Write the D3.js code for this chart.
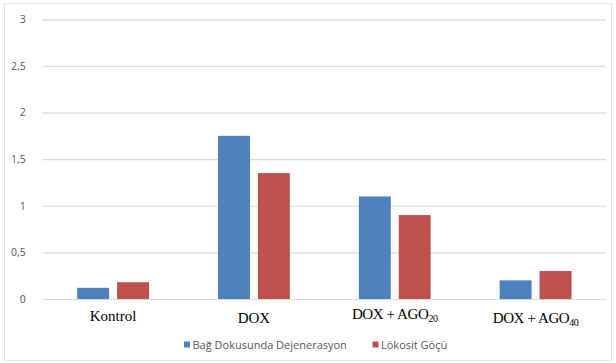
<!DOCTYPE html>
<html>
<head>
<meta charset="utf-8">
<script src="https://cdn.jsdelivr.net/npm/d3@7"></script>
<style>
  html, body { margin: 0; padding: 0; background: #fff; }
  svg { display: block; }
</style>
</head>
<body>
<svg id="chart" width="616" height="363"></svg>
<script>
// Group names, each split into main text and a subscript part
const categories = ["Kontrol", "DOX", "DOX + AGO20", "DOX + AGO40"];
const categoryMain = ["Kontrol", "DOX", "DOX + AGO", "DOX + AGO"];
const categorySub = ["", "", "20", "40"];

const seriesNames = ["Bağ Dokusunda Dejenerasyon", "Lökosit Göçü"];
const degeneration = [0.12, 1.75, 1.1, 0.2];
const leukocyte = [0.18, 1.35, 0.9, 0.3];

const yTicks = [0, 0.5, 1, 1.5, 2, 2.5, 3];

const colors = ["#4F81BD", "#C0504D"];

const rows = categories.map((c, i) => ({
  cat: c, main: categoryMain[i], sub: categorySub[i],
  values: [degeneration[i], leukocyte[i]]
}));

const svg = d3.select("#chart");

// Outer chart frame
svg.append("rect")
  .attr("x", 4.5).attr("y", 3.5)
  .attr("width", 607).attr("height", 357)
  .attr("fill", "#fff")
  .attr("stroke", "#e3e3e3").attr("stroke-width", 1);

const plot = { left: 42.7, right: 606, top: 19.3, bottom: 299 };

const x0 = d3.scaleBand()
  .domain(categories)
  .range([plot.left, plot.right])
  .paddingInner(0.49)
  .paddingOuter(0.245);

const x1 = d3.scaleBand()
  .domain(d3.range(seriesNames.length))
  .range([0, x0.bandwidth()])
  .paddingInner(0.2);

const y = d3.scaleLinear().domain([0, 3]).range([plot.bottom, plot.top]);

const fmt = v => String(v).replace(".", ",");

// Horizontal gridlines and value labels
const yAxis = d3.axisLeft(y)
  .tickValues(yTicks)
  .tickSize(-(plot.right - plot.left))
  .tickPadding(17)
  .tickFormat(fmt);

const gy = svg.append("g")
  .attr("transform", `translate(${plot.left},0)`)
  .call(yAxis);
gy.select(".domain").remove();
gy.selectAll(".tick line")
  .attr("stroke", "#d9d9d9")
  .attr("stroke-width", 1.2);
gy.selectAll(".tick text")
  .attr("fill", "#595959")
  .style("font-family", "'Open Sans', sans-serif")
  .style("font-size", "10.5px");

// Bars
const groups = svg.append("g").selectAll("g")
  .data(rows)
  .join("g")
  .attr("transform", d => `translate(${x0(d.cat)},0)`);

groups.selectAll("rect")
  .data(d => d.values.map((v, k) => ({ v, k })))
  .join("rect")
  .attr("x", d => x1(d.k))
  .attr("width", x1.bandwidth())
  .attr("y", d => y(d.v))
  .attr("height", d => y(0) - y(d.v))
  .attr("fill", d => colors[d.k]);

// Category labels below the baseline
const labelNudge = [0, 2.5, -1.5, 2.5];
const labels = svg.append("g").selectAll("text")
  .data(rows)
  .join("text")
  .attr("x", d => x0(d.cat) + x0.bandwidth() / 2)
  .attr("y", (d, i) => 320.5 + labelNudge[i])
  .attr("text-anchor", "middle")
  .attr("fill", "#000")
  .style("font-family", "'Liberation Serif', 'Times New Roman', serif")
  .style("font-size", "15px")
  .style("letter-spacing", (d, i) => d.sub ? "-0.4px" : "0px");

labels.append("tspan").text(d => d.main);
labels.filter(d => d.sub)
  .append("tspan")
  .attr("dy", 3)
  .style("font-size", "10px")
  .text(d => d.sub);

// Legend
const legendItems = [
  { name: seriesNames[0], color: colors[0], x: 184 },
  { name: seriesNames[1], color: colors[1], x: 372.5 }
];
const lg = svg.append("g").selectAll("g")
  .data(legendItems)
  .join("g")
  .attr("transform", d => `translate(${d.x},341.5)`);
lg.append("rect")
  .attr("width", 6).attr("height", 6)
  .attr("fill", d => d.color);
lg.append("text")
  .attr("x", 8.5).attr("y", 7)
  .attr("fill", "#595959")
  .style("font-family", "'Open Sans', sans-serif")
  .style("font-size", "11px")
  .text(d => d.name);
</script>
</body>
</html>
